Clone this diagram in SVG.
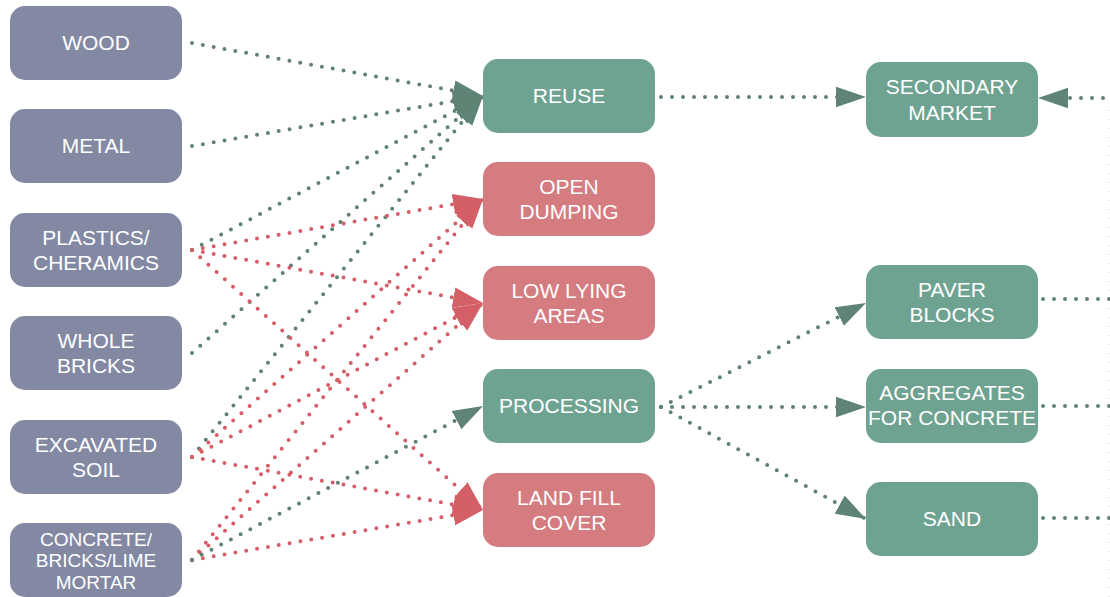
<svg xmlns="http://www.w3.org/2000/svg" width="1110" height="597" viewBox="0 0 1110 597">
<style>
.n rect{rx:15;ry:15}
.src rect{fill:#8389a3}
.ok rect{fill:#6fa391}
.bad rect{fill:#d57c81}
text{font-family:"Liberation Sans",Arial,sans-serif;font-size:21px;fill:#ffffff;text-anchor:middle}
text.s{font-size:19px}
.g{stroke:#5e8273;stroke-width:4;stroke-dasharray:0 11;stroke-linecap:round;fill:none}
.r{stroke:#d45f67;stroke-width:4;stroke-dasharray:0 11;stroke-linecap:round;fill:none}
.g.a{marker-end:url(#ag)}
.r.a{marker-end:url(#ar)}
</style>
<defs>
<marker id="ag" markerUnits="userSpaceOnUse" markerWidth="30" markerHeight="22" viewBox="0 0 29 20" refX="29" refY="10" orient="auto"><path d="M0,0 L29,10 L0,20 z" fill="#5f8374"/></marker>
<marker id="ar" markerUnits="userSpaceOnUse" markerWidth="30" markerHeight="22" viewBox="0 0 29 20" refX="29" refY="10" orient="auto"><path d="M0,0 L29,10 L0,20 z" fill="#d45f67"/></marker>
</defs>
<rect width="1110" height="597" fill="#ffffff"/>
<line x1="1109" y1="110" x2="1109" y2="597" stroke="#d6d6d6" stroke-width="1" stroke-dasharray="1 8"/>
<g id="connectors">
<path class="g a" d="M192,43 L483,96"/>
<path class="g a" d="M192,146 L483,96"/>
<path class="g a" d="M192,250 L483,96"/>
<path class="g a" d="M192,353 L483,96"/>
<path class="g a" d="M192,457 L483,96"/>
<path class="r a" d="M192,250 L483,199"/>
<path class="r a" d="M192,457 L483,199"/>
<path class="r a" d="M192,560 L483,199"/>
<path class="r a" d="M192,250 L483,303"/>
<path class="r a" d="M192,457 L483,303"/>
<path class="r a" d="M192,560 L483,303"/>
<path class="r a" d="M192,250 L483,510"/>
<path class="r a" d="M192,457 L483,510"/>
<path class="r a" d="M192,560 L483,510"/>
<path class="g a" d="M192,560 L483,406"/>
<path class="g a" d="M661,97 L866,97"/>
<path class="g a" d="M661,407 L866,303"/>
<path class="g a" d="M661,407 L866,407"/>
<path class="g a" d="M661,407 L866,519"/>
<path class="g a" d="M1114,98 L1038,98"/>
<path class="g" d="M1043,299 L1110,299"/>
<path class="g" d="M1043,406 L1110,406"/>
<path class="g" d="M1043,518 L1110,518"/>
</g>
<g id="wood" class="n src"><rect x="10" y="6" width="172" height="74"/><text x="96" y="50">WOOD</text></g>
<g id="metal" class="n src"><rect x="10" y="109" width="172" height="74"/><text x="96" y="153">METAL</text></g>
<g id="plastics" class="n src"><rect x="10" y="213" width="172" height="74"/><text x="96" y="245">PLASTICS/</text><text x="96" y="270">CHERAMICS</text></g>
<g id="whole-bricks" class="n src"><rect x="10" y="316" width="172" height="74"/><text x="96" y="348">WHOLE</text><text x="96" y="373">BRICKS</text></g>
<g id="excavated-soil" class="n src"><rect x="10" y="420" width="172" height="74"/><text x="96" y="452">EXCAVATED</text><text x="96" y="477">SOIL</text></g>
<g id="concrete" class="n src"><rect x="10" y="523" width="172" height="74"/><text class="s" x="96" y="545.5">CONCRETE/</text><text class="s" x="96" y="567">BRICKS/LIME</text><text class="s" x="96" y="588.5">MORTAR</text></g>
<g id="reuse" class="n ok"><rect x="483" y="59" width="172" height="74"/><text x="569" y="103">REUSE</text></g>
<g id="open-dumping" class="n bad"><rect x="483" y="162" width="172" height="74"/><text x="569" y="194">OPEN</text><text x="569" y="219">DUMPING</text></g>
<g id="low-lying" class="n bad"><rect x="483" y="266" width="172" height="74"/><text x="569" y="298">LOW LYING</text><text x="569" y="323">AREAS</text></g>
<g id="processing" class="n ok"><rect x="483" y="369" width="172" height="74"/><text x="569" y="413">PROCESSING</text></g>
<g id="land-fill" class="n bad"><rect x="483" y="473" width="172" height="74"/><text x="569" y="505">LAND FILL</text><text x="569" y="530">COVER</text></g>
<g id="secondary-market" class="n ok"><rect x="866" y="62" width="172" height="75"/><text x="952" y="93.5">SECONDARY</text><text x="952" y="119.5">MARKET</text></g>
<g id="paver-blocks" class="n ok"><rect x="866" y="265" width="172" height="74"/><text x="952" y="297">PAVER</text><text x="952" y="322">BLOCKS</text></g>
<g id="aggregates" class="n ok"><rect x="866" y="369" width="172" height="74"/><text x="952" y="400">AGGREGATES</text><text x="952" y="425">FOR CONCRETE</text></g>
<g id="sand" class="n ok"><rect x="866" y="482" width="172" height="74"/><text x="952" y="526">SAND</text></g>
</svg>
